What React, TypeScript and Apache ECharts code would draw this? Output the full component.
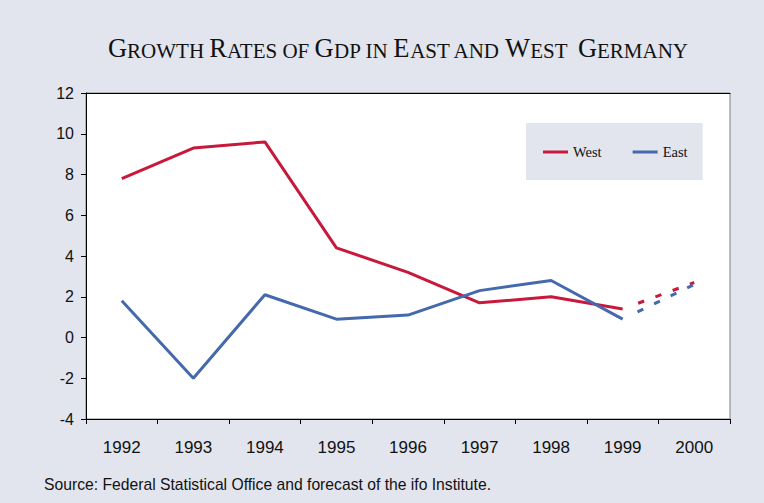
import React, { useEffect, useRef } from "react";
import * as echarts from "echarts";

const years = ["1992", "1993", "1994", "1995", "1996", "1997", "1998", "1999", "2000"];
const westActual = [7.8, 9.3, 9.6, 4.4, 3.2, 1.7, 2.0, 1.4];
const eastActual = [1.8, -2.0, 2.1, 0.9, 1.1, 2.3, 2.8, 0.9];
const westForecast = [2.7];
const eastForecast = [2.6];
const yMin = -4;
const yMax = 12;
const yStep = 2;

const titleParts: [string, string][] = [
  ["G", "a"], ["ROWTH ", "b"], ["R", "a"], ["ATES OF ", "b"], ["G", "a"], ["DP IN ", "b"],
  ["E", "a"], ["AST AND ", "b"], ["W", "a"], ["EST  ", "b"], ["G", "a"], ["ERMANY", "b"],
];
const sourceText = "Source: Federal Statistical Office and forecast of the ifo Institute.";

const RED = "#c8193c";
const BLUE = "#4569ad";
const BG = "#e2e5ed";

function forecastData(actual: number[], fc: number[]) {
  const last = actual.length - 1;
  return years.map((_, i) => (i < last ? "-" : i === last ? actual[last] : fc[i - last - 1]));
}

export default function App() {
  const ref = useRef<HTMLDivElement>(null);
  useEffect(() => {
    if (!ref.current) return;
    const chart = echarts.init(ref.current, null, { renderer: "svg" });
    const dash = [0, 16.5, 6.4, 12, 6.4, 12, 6.4, 12, 6.4, 40];
    chart.setOption({
      animation: false,
      backgroundColor: BG,
      title: {
        text: titleParts.map(([t, s]) => `{${s}|${t}}`).join(""),
        left: 393,
        top: 26,
        textAlign: "center",
        textStyle: {
          fontWeight: "normal",
          rich: {
            a: { fontFamily: "Liberation Serif", fontWeight: "normal", fontSize: 26.5, color: "#111", lineHeight: 30, verticalAlign: "bottom" },
            b: { fontFamily: "Liberation Serif", fontWeight: "normal", fontSize: 21, color: "#111", lineHeight: 26.3, verticalAlign: "bottom" },
          },
        },
      },
      graphic: [
        {
          type: "text",
          left: 44,
          top: 476,
          style: { text: sourceText, fontFamily: "Liberation Sans", fontSize: 15.7, fill: "#111" },
        },
      ],
      legend: {
        data: ["West", "East"],
        left: 526,
        top: 123,
        padding: [21, 15, 20, 17],
        backgroundColor: BG,
        icon: "rect",
        itemWidth: 25,
        itemHeight: 3,
        itemGap: 31,
        textStyle: { fontFamily: "Liberation Serif", fontSize: 14.5, color: "#111", lineHeight: 16 },
      },
      grid: {
        left: 86,
        top: 93,
        width: 644,
        height: 326,
        show: true,
        backgroundColor: "#ffffff",
        borderColor: "#808080",
        borderWidth: 1,
      },
      xAxis: [
        {
          type: "category",
          data: years,
          boundaryGap: true,
          axisLine: { onZero: false, lineStyle: { color: "#000", width: 1 } },
          axisTick: { show: true, interval: 0, length: 5, lineStyle: { color: "#000" } },
          axisLabel: { interval: 0, margin: 20, fontFamily: "Liberation Sans", fontSize: 17, color: "#111" },
        },
        {
          type: "category",
          data: years,
          position: "top",
          axisLine: { onZero: false, lineStyle: { color: "#000", width: 1 } },
          axisTick: { show: false },
          axisLabel: { show: false },
        },
      ],
      yAxis: {
        type: "value",
        min: yMin,
        max: yMax,
        interval: yStep,
        axisLine: { show: true, lineStyle: { color: "#000", width: 1 } },
        axisTick: { show: true, length: 5, lineStyle: { color: "#000" } },
        splitLine: { show: false },
        axisLabel: { margin: 12, fontFamily: "Liberation Sans", fontSize: 16, color: "#111" },
      },
      series: [
        {
          name: "West",
          type: "line",
          data: westActual,
          symbol: "none",
          lineStyle: { color: RED, width: 3 },
          itemStyle: { color: RED },
        },
        {
          name: "East",
          type: "line",
          data: eastActual,
          symbol: "none",
          lineStyle: { color: BLUE, width: 3 },
          itemStyle: { color: BLUE },
        },
        {
          name: "West forecast",
          type: "line",
          data: forecastData(westActual, westForecast),
          symbol: "none",
          lineStyle: { color: RED, width: 3, type: dash },
        },
        {
          name: "East forecast",
          type: "line",
          data: forecastData(eastActual, eastForecast),
          symbol: "none",
          lineStyle: { color: BLUE, width: 3, type: dash },
        },
      ],
    });
    return () => chart.dispose();
  }, []);
  return <div ref={ref} style={{ position: "absolute", left: 0, top: 0, width: 764, height: 503 }} />;
}
